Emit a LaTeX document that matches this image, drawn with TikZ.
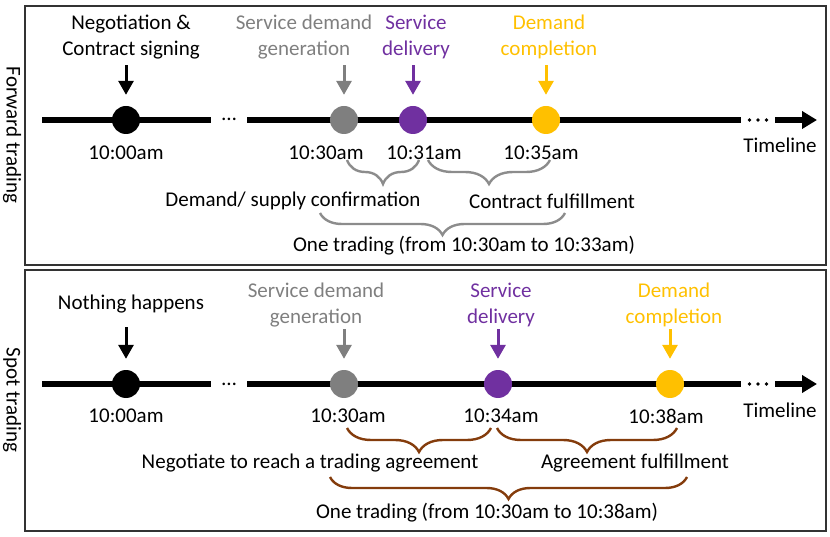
\documentclass[tikz,border=0pt]{standalone}
\usepackage{fontspec}
\setmainfont{Carlito}
\usetikzlibrary{arrows.meta,decorations.pathreplacing,positioning}

\definecolor{gengray}{RGB}{127,127,127}
\definecolor{delpurple}{RGB}{112,48,160}
\definecolor{compgold}{RGB}{255,192,0}
\definecolor{bracegray}{RGB}{140,140,140}
\definecolor{bracebrown}{RGB}{132,60,12}

\tikzset{
  lbl/.style={align=center, inner sep=1pt, font=\fontsize{21}{26}\selectfont},
  evt/.style={circle, minimum size=28pt, inner sep=0pt},
  pin/.style={line width=3pt, -{Triangle[width=15pt,length=14pt]}, shorten <=5pt, shorten >=11pt},
  axis/.style={line width=6pt},
  axisend/.style={line width=6pt, -{Triangle[width=17pt,length=15pt]}},
  brc/.style={decorate, decoration={brace, mirror, amplitude=#1}, line width=2.4pt},
  brc/.default=24pt,
  panel/.style={draw=black!80, line width=1.2pt},
}

\begin{document}
\begin{tikzpicture}[x=1pt,y=-1pt]
    \useasboundingbox (0,0) rectangle (830,537);
    % panels
    \draw[panel] (25,6) rectangle (826,265);
    \draw[panel] (25,270) rectangle (826,531);
    \node[lbl, rotate=-90] (fwd) at (12,135) {Forward trading};
    \node[lbl, rotate=-90] (spot) at (12,400) {Spot trading};

    % forward trading timeline
    \coordinate (fs) at (42,120);
    \coordinate (fe) at (817,120);
    \node[lbl, minimum width=36pt, anchor=base] (fdots) at (229,121) {\dots};
    \node[minimum width=34pt, inner sep=0pt] (fmore) at (758,120) {};
    \draw[axis] (fs) -- (fdots.west |- fs);
    \draw[axis] (fdots.east |- fs) -- (fmore.west);
    \draw[axisend] (fmore.east) -- (fe);
    \foreach \dx in {-8.5,0,8.5}
        \fill ([xshift=\dx]fmore.center) circle (1.9);
    \node[lbl] (ftl) at (780,145) {Timeline};

    \node[evt, fill=black] (fa) at (126,120) {};
    \node[evt, fill=gengray] (fg) at (344,120) {};
    \node[evt, fill=delpurple] (fp) at (413,120) {};
    \node[evt, fill=compgold] (fy) at (546,120) {};

    \node[lbl] (fneg) at (131,37) {Negotiation \&\\Contract signing};
    \node[lbl, text=gengray] (fgen) at (304,37) {Service demand\\generation};
    \node[lbl, text=delpurple] (fdel) at (416,37) {Service\\delivery};
    \node[lbl, text=compgold] (fcom) at (549,37) {Demand\\completion};
    \draw[pin] (fneg.south -| fa) -- (fa.north);
    \draw[pin, gengray] (fgen.south -| fg) -- (fg.north);
    \draw[pin, delpurple] (fdel.south -| fp) -- (fp.north);
    \draw[pin, compgold] (fcom.south -| fy) -- (fy.north);

    \node[lbl] (ft00) at (126,153) {10:00am};
    \node[lbl] (ft30) at (326,153) {10:30am};
    \node[lbl] (ft31) at (424,153) {10:31am};
    \node[lbl] (ft35) at (541,153) {10:35am};

    \draw[brc, bracegray] ([shift={(3,40)}]fg.center) -- ([shift={(6,40)}]fp.center);
    \draw[brc, bracegray] ([shift={(15,40)}]fp.center) -- ([shift={(4,40)}]fy.center);
    \draw[brc=22pt, bracegray] ([shift={(-24,93)}]fg.center) -- ([shift={(19,93)}]fy.center);
    \node[lbl] (fconf) at (293,201) {Demand/ supply confirmation};
    \node[lbl] (fful) at (552,201) {Contract fulfillment};
    \node[lbl] (fone) at (464,246) {One trading (from 10:30am to 10:33am)};

    % spot trading timeline
    \coordinate (ss) at (42,384);
    \coordinate (se) at (817,384);
    \node[lbl, minimum width=36pt, anchor=base] (sdots) at (229,385) {\dots};
    \node[minimum width=34pt, inner sep=0pt] (smore) at (758,384) {};
    \draw[axis] (ss) -- (sdots.west |- ss);
    \draw[axis] (sdots.east |- ss) -- (smore.west);
    \draw[axisend] (smore.east) -- (se);
    \foreach \dx in {-8.5,0,8.5}
        \fill ([xshift=\dx]smore.center) circle (1.9);
    \node[lbl] (stl) at (780,410) {Timeline};

    \node[evt, fill=black] (sa) at (126,384) {};
    \node[evt, fill=gengray] (sg) at (344,384) {};
    \node[evt, fill=delpurple] (sp) at (498,384) {};
    \node[evt, fill=compgold] (sy) at (670,384) {};

    \node[lbl] (snot) at (131,304) {Nothing happens};
    \node[lbl, text=gengray] (sgen) at (316,305) {Service demand\\generation};
    \node[lbl, text=delpurple] (sdel) at (501,305) {Service\\delivery};
    \node[lbl, text=compgold] (scom) at (674,305) {Demand\\completion};
    \draw[pin, shorten <=13pt] (snot.south -| sa) -- (sa.north);
    \draw[pin, gengray, shorten <=1pt] (sgen.south -| sg) -- (sg.north);
    \draw[pin, delpurple, shorten <=1pt] (sdel.south -| sp) -- (sp.north);
    \draw[pin, compgold, shorten <=1pt] (scom.south -| sy) -- (sy.north);

    \node[lbl] (st00) at (126,416) {10:00am};
    \node[lbl] (st30) at (348,416) {10:30am};
    \node[lbl] (st34) at (501,416) {10:34am};
    \node[lbl] (st38) at (666,416) {10:38am};

    \draw[brc, bracebrown] ([shift={(3,44)}]sg.center) -- ([shift={(-7,44)}]sp.center);
    \draw[brc, bracebrown] ([shift={(-1,44)}]sp.center) -- ([shift={(7,44)}]sy.center);
    \draw[brc=22pt, bracebrown] ([shift={(-14,93)}]sg.center) -- ([shift={(17,93)}]sy.center);
    \node[lbl] (sneg) at (310,463) {Negotiate to reach a trading agreement};
    \node[lbl] (sful) at (635,463) {Agreement fulfillment};
    \node[lbl] (sone) at (487,513) {One trading (from 10:30am to 10:38am)};
\end{tikzpicture}
\end{document}
